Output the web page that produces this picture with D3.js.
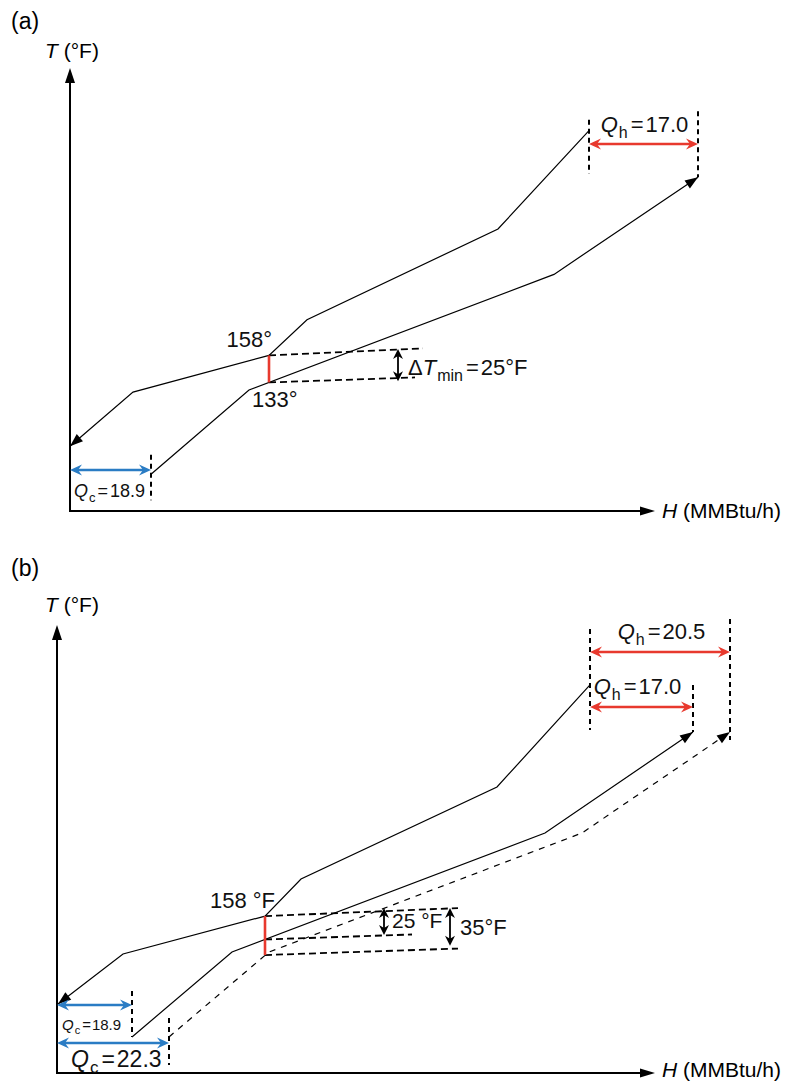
<!DOCTYPE html>
<html>
<head>
<meta charset="utf-8">
<script src="https://cdn.jsdelivr.net/npm/d3@7"></script>
<style>
  body { margin: 0; background: #fff; }
  svg { display: block; font-family: "Liberation Sans", Arial, Helvetica, sans-serif; }
</style>
</head>
<body>
<svg id="chart" width="797" height="1084"></svg>
<script>
// ---------- Panel (a): composite curves at ΔTmin = 25 °F ----------
const aHotH  = [103.8, 85.6, 47.4, 39.8, 12.6, 0];
const aHotT  = [366, 275, 191, 158, 124, 74];
const aColdH = [16.2, 35.8, 96.8, 125.6];
const aColdT = [48, 126, 233, 323];
const aPinch = { H: 39.8, hot: 158, cold: 133 };
const aPinchGuides = [ // [H0, T0, H1, T1]
  [39.8, 158, 70.6, 164.5],
  [39.8, 133, 69.0, 137.6]
];
const aDeltaArrows = [ // [H, Ttop, Tbottom]
  [65.6, 164, 134]
];
const aHeatArrows = [ // [H0, H1, T, kind]
  [103.8, 125.6, 353.7, "hot"],
  [0, 16.2, 52, "cold"]
];
const aEdgeMarks = [ // dashed verticals [H, Ttop, Tbottom]
  [103.8, 376, 326],
  [125.6, 384, 323],
  [16.2, 66, 24]
];

// ---------- Panel (b): ΔTmin raised to 35 °F ----------
const bHotH   = [106.6, 88, 48.8, 41.6, 13.2, 0.2];
const bHotT   = [371.6, 277.3, 192.3, 158, 123, 76.8];
const bColdH  = [15, 35, 97.6, 127.2];
const bColdT  = [46.3, 124.8, 234.8, 328.1];
const bShiftH = [22.4, 42.4, 105.0, 134.6];
const bShiftT = [46.3, 124.8, 234.8, 328.1];
const bPinch = { H: 41.6, hot: 158, cold: 122 };
const bPinchGuides = [
  [41.6, 158, 80.2, 165.4],
  [41.6, 136.4, 71.0, 141.0],
  [41.6, 122, 80.2, 128.0]
];
const bDeltaArrows = [
  [65.4, 165.5, 140.5],
  [78.6, 165.5, 130.5]
];
const bHeatArrows = [
  [106.6, 134.6, 402, "hot"],
  [106.6, 127.2, 351.2, "hot"],
  [0, 15, 75.8, "cold"],
  [0, 22.4, 40.7, "cold"]
];
const bEdgeMarks = [
  [106.6, 423.3, 330],
  [134.6, 432.6, 320.7],
  [127.2, 371.6, 328.1],
  [15, 88.8, 46.3],
  [22.4, 63.8, 20.4]
];

// Label pieces: [text, style, gapBefore] — style "i" italic, "s" subscript, "" upright
const aLabels = [
  { H: 40.4, T: 165.8, anchor: "end", size: 22, parts: [["158°", ""]] },
  { H: 36.4, T: 110.3, anchor: "start", size: 22, parts: [["133°", ""]] },
  { H: 67.6, T: 139.9, anchor: "start", size: 22, parts: [["Δ", ""], ["T", "i"], ["min", "s"], ["=", "", 3], ["25°F", "", 2]] },
  { H: 114.9, T: 364.8, anchor: "middle", size: 22, parts: [["Q", "i"], ["h", "s"], ["=", "", 3], ["17.0", "", 2]] },
  { H: 0.8, T: 27, anchor: "start", size: 18, parts: [["Q", "i"], ["c", "s"], ["=", "", 2], ["18.9", "", 2]] }
];
const bLabels = [
  { H: 43.6, T: 165.5, anchor: "end", size: 22, parts: [["158 °F", ""]] },
  { H: 67.0, T: 147, anchor: "start", size: 21, parts: [["25 °F", ""]] },
  { H: 80.6, T: 140.5, anchor: "start", size: 22, parts: [["35°F", ""]] },
  { H: 120.9, T: 414.1, anchor: "middle", size: 22, parts: [["Q", "i"], ["h", "s"], ["=", "", 3], ["20.5", "", 2]] },
  { H: 116.1, T: 363.2, anchor: "middle", size: 22, parts: [["Q", "i"], ["h", "s"], ["=", "", 3], ["17.0", "", 2]] },
  { H: 1.0, T: 52.7, anchor: "start", size: 15, parts: [["Q", "i"], ["c", "s"], ["=", "", 2], ["18.9", "", 1]] },
  { H: 2.8, T: 18.5, anchor: "start", size: 23, parts: [["Q", "i"], ["c", "s"], ["=", "", 3], ["22.3", "", 2]] }
];

const RED = "#e8392e";
const BLUE = "#2a7cc4";
const svg = d3.select("#chart");

function arrowHead(g, x, y, ang, L, W, notch, color) {
  const c = Math.cos(ang), s = Math.sin(ang);
  const pts = [[0, 0], [-L, -W], [-L + notch, 0], [-L, W]]
    .map(([u, v]) => [x + u * c - v * s, y + u * s + v * c]);
  g.append("path")
    .attr("d", "M" + pts.map(p => p.join(",")).join("L") + "Z")
    .attr("fill", color);
}

function writeLabel(g, x, y, lab) {
  const t = g.append("text")
    .attr("x", x).attr("y", y)
    .attr("text-anchor", lab.anchor)
    .attr("font-size", lab.size)
    .attr("fill", "#111");
  let shifted = false;
  lab.parts.forEach(([txt, st, gap]) => {
    const sp = t.append("tspan").text(txt);
    if (st === "i") sp.attr("font-style", "italic");
    if (st === "s") {
      sp.attr("font-size", Math.round(lab.size * 0.72)).attr("dy", lab.size * 0.28).attr("dx", 1);
      shifted = true;
    } else {
      if (shifted) { sp.attr("dy", -lab.size * 0.28); shifted = false; }
      if (gap) sp.attr("dx", gap);
    }
  });
}

function drawPanel(cfg) {
  const g = svg.append("g");
  const x = d3.scaleLinear().domain(cfg.hDomain).range(cfg.xRange);
  const y = d3.scaleLinear().domain(cfg.tDomain).range(cfg.yRange);
  const x0 = cfg.xRange[0], y0 = cfg.yRange[0];
  const xEnd = cfg.xRange[1], yEnd = cfg.yRange[1];

  // panel tag and axis titles
  g.append("text").attr("x", 11).attr("y", cfg.tagY).attr("font-size", 23).text(cfg.tag);
  const tt = g.append("text").attr("x", 45).attr("y", cfg.tTitleY).attr("font-size", 21);
  tt.append("tspan").attr("font-style", "italic").text("T");
  tt.append("tspan").text(" (°F)");
  const ht = g.append("text").attr("x", 662).attr("y", cfg.hTitleY).attr("font-size", 21);
  ht.append("tspan").attr("font-style", "italic").text("H");
  ht.append("tspan").text(" (MMBtu/h)");

  // axes with arrow tips
  g.append("line").attr("x1", x0).attr("y1", y0 + 1).attr("x2", x0).attr("y2", yEnd + 12)
    .attr("stroke", "#000").attr("stroke-width", 2);
  arrowHead(g, x0, yEnd, -Math.PI / 2, 15, 5, 0, "#000");
  g.append("line").attr("x1", x0 - 1).attr("y1", y0).attr("x2", xEnd - 12).attr("y2", y0)
    .attr("stroke", "#000").attr("stroke-width", 2);
  arrowHead(g, xEnd, y0, 0, 15, 4.5, 0, "#000");

  const line = d3.line().x(d => x(d[0])).y(d => y(d[1]));

  // composite curves
  cfg.curves.forEach(c => {
    const pts = c.H.map((h, i) => [h, c.T[i]]);
    g.append("path").attr("d", line(pts)).attr("fill", "none")
      .attr("stroke", "#000").attr("stroke-width", 1.2)
      .attr("stroke-dasharray", c.dashed ? "6,6" : null);
    const n = pts.length;
    const px = x(pts[n - 1][0]), py = y(pts[n - 1][1]);
    const ang = Math.atan2(py - y(pts[n - 2][1]), px - x(pts[n - 2][0]));
    arrowHead(g, px, py, ang, 13, 4.8, 0, "#000");
  });

  // dashed pinch guides
  cfg.guides.forEach(([h0, t0, h1, t1]) => {
    g.append("line").attr("x1", x(h0)).attr("y1", y(t0)).attr("x2", x(h1)).attr("y2", y(t1))
      .attr("stroke", "#000").attr("stroke-width", 1.8).attr("stroke-dasharray", "7,4");
  });

  // pinch marker
  g.append("line").attr("x1", x(cfg.pinch.H)).attr("x2", x(cfg.pinch.H))
    .attr("y1", y(cfg.pinch.hot)).attr("y2", y(cfg.pinch.cold))
    .attr("stroke", RED).attr("stroke-width", 2.6);

  // ΔT double arrows
  cfg.deltas.forEach(([h, ta, tb]) => {
    const xx = x(h), ya = y(ta), yb = y(tb);
    g.append("line").attr("x1", xx).attr("x2", xx).attr("y1", ya + 6).attr("y2", yb - 6)
      .attr("stroke", "#000").attr("stroke-width", 1.8);
    arrowHead(g, xx, ya, -Math.PI / 2, 10, 5, 3, "#000");
    arrowHead(g, xx, yb, Math.PI / 2, 10, 5, 3, "#000");
  });

  // dashed edge markers
  cfg.edges.forEach(([h, ta, tb]) => {
    g.append("line").attr("x1", x(h)).attr("x2", x(h)).attr("y1", y(ta)).attr("y2", y(tb))
      .attr("stroke", "#000").attr("stroke-width", 2).attr("stroke-dasharray", "5,4");
  });

  // heat-duty double arrows
  cfg.heats.forEach(([h0, h1, t, kind]) => {
    const col = kind === "hot" ? RED : BLUE;
    const xa = x(h0), xb = x(h1), yy = y(t);
    g.append("line").attr("x1", xa + 5).attr("x2", xb - 5).attr("y1", yy).attr("y2", yy)
      .attr("stroke", col).attr("stroke-width", 2.6);
    arrowHead(g, xa, yy, Math.PI, 12, 5.5, 4, col);
    arrowHead(g, xb, yy, 0, 12, 5.5, 4, col);
  });

  cfg.labels.forEach(lab => writeLabel(g, x(lab.H), y(lab.T), lab));
}

drawPanel({
  tag: "(a)", tagY: 29, tTitleY: 58, hTitleY: 518,
  hDomain: [0, 117], xRange: [70, 655],
  tDomain: [14, 424], yRange: [511, 68],
  curves: [
    { H: aHotH, T: aHotT },
    { H: aColdH, T: aColdT }
  ],
  guides: aPinchGuides, pinch: aPinch, deltas: aDeltaArrows,
  edges: aEdgeMarks, heats: aHeatArrows, labels: aLabels
});

drawPanel({
  tag: "(b)", tagY: 576, tTitleY: 612, hTitleY: 1077,
  hDomain: [0, 119.6], xRange: [57, 655],
  tDomain: [13, 427], yRange: [1073, 625],
  curves: [
    { H: bHotH, T: bHotT },
    { H: bColdH, T: bColdT },
    { H: bShiftH, T: bShiftT, dashed: true }
  ],
  guides: bPinchGuides, pinch: bPinch, deltas: bDeltaArrows,
  edges: bEdgeMarks, heats: bHeatArrows, labels: bLabels
});
</script>
</body>
</html>
